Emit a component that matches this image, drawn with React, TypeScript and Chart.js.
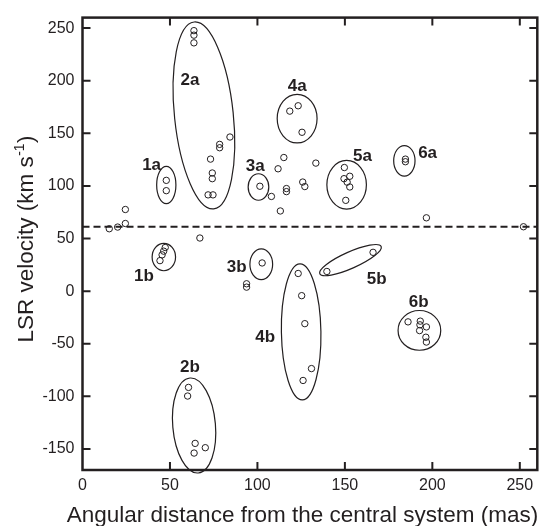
import React, { useEffect, useRef } from "react";
import { Chart, registerables } from "chart.js";

Chart.register(...registerables);

// ---- tick labels ----
const xTicks = [0, 50, 100, 150, 200, 250];
const yTicks = [-150, -100, -50, 0, 50, 100, 150, 200, 250];
const xRange = [0, 260];
const yRange = [-170, 260];

// ---- systemic velocity (dashed line) ----
const systemicVelocity = 61.3;

// ---- maser spots: angular distance (mas) and LSR velocity (km/s) ----
const distance = [
  15.3, 20.1, 24.5, 24.5,
  47.9, 47.9,
  47.3, 46.4, 45.5, 44.3,
  67.1,
  63.7, 63.7, 63.7, 84.3, 78.4, 78.4, 73.2, 74.2, 74.2, 71.8, 74.6,
  60.6, 60.1, 64.4, 70.2, 63.8,
  101.4,
  108.0, 113.1, 111.8, 115.1, 116.6, 116.6, 125.9, 127.1, 133.4,
  102.7, 93.8, 93.8,
  118.5, 123.3, 125.5,
  123.3, 125.3, 127.1, 130.9, 126.1,
  149.7, 152.8, 149.5, 151.3, 152.8, 150.5,
  139.7, 166.1,
  184.6, 184.6,
  196.6, 252.1,
  186.1, 193.1, 192.9, 192.7, 196.6, 196.3, 196.6,
];
const velocity = [
  59.3, 60.9, 64.3, 77.6,
  105.3, 95.5,
  41.5, 38.0, 34.5, 29.0,
  50.5,
  247.6, 243.3, 236.0, 146.5, 139.5, 136.3, 125.5, 112.3, 106.9, 91.5, 91.5,
  -91.5, -99.7, -144.7, -148.8, -153.9,
  99.7,
  90.0, 76.2, 116.3, 127.0, 97.5, 94.6, 103.7, 99.4, 121.7,
  26.8, 7.0, 3.8,
  171.1, 176.2, 151.0,
  16.8, -4.3, -30.9, -73.6, -84.9,
  117.5, 109.2, 106.9, 103.6, 99.0, 86.3,
  18.7, 36.9,
  125.5, 123.0,
  69.7, 61.2,
  -29.2, -28.5, -32.0, -37.5, -34.0, -43.8, -48.4,
];

// ---- cluster ellipses (data units; tilt in degrees on screen) ----
const ellipseNames = ["1a", "1b", "2a", "2b", "3a", "3b", "4a", "4b", "5a", "5b", "6a", "6b"];
const ellipseCx = [47.9, 46.5, 69.4, 63.8, 100.6, 102.2, 122.7, 125.0, 151.0, 153.2, 184.0, 192.6];
const ellipseCy = [100.9, 32.4, 167.0, -127.7, 99.0, 25.5, 164.0, -38.7, 101.1, 29.5, 123.9, -37.3];
const ellipseRx = [5.5, 6.7, 16.8, 12.2, 5.9, 6.5, 11.4, 11.3, 11.3, 19.2, 6.1, 12.2];
const ellipseRy = [17.7, 13.0, 89.3, 45.3, 12.6, 14.6, 23.1, 64.7, 23.1, 7.8, 14.5, 18.9];
const ellipseTilt = [0, 0, -6, -5, 0, 0, 0, -1, 0, -24, 0, 0];

// ---- cluster label anchors (data units) ----
const labelX = [39.5, 35.1, 61.4, 61.4, 98.8, 88.2, 122.7, 104.4, 160.1, 168.2, 197.3, 192.2];
const labelY = [121.0, 15.2, 201.0, -71.7, 119.5, 23.4, 195.7, -42.7, 129.0, 11.9, 132.0, -10.1];

const xTitle = "Angular distance from the central system (mas)";
const yTitleMain = "LSR velocity (km s";
const yTitleSup = "-1";
const yTitleEnd = ")";

const INK = "#231f20";
const FAMILY = '"Liberation Sans", Arial, Helvetica, sans-serif';

const overlayPlugin = {
  id: "overlay",
  afterDatasetsDraw(chart: any) {
    const { ctx, chartArea, scales } = chart;
    const xs = scales.x;
    const ys = scales.y;
    const { left, right, top, bottom } = chartArea;
    ctx.save();

    // dashed systemic line
    ctx.strokeStyle = INK;
    ctx.lineWidth = 2;
    ctx.setLineDash([7, 4]);
    const yd = ys.getPixelForValue(systemicVelocity);
    ctx.beginPath();
    ctx.moveTo(left, yd);
    ctx.lineTo(right, yd);
    ctx.stroke();
    ctx.setLineDash([]);

    // ellipses
    const pxPerX = Math.abs(xs.getPixelForValue(1) - xs.getPixelForValue(0));
    const pxPerY = Math.abs(ys.getPixelForValue(1) - ys.getPixelForValue(0));
    ctx.lineWidth = 1.2;
    for (let i = 0; i < ellipseNames.length; i++) {
      const cx = xs.getPixelForValue(ellipseCx[i]);
      const cy = ys.getPixelForValue(ellipseCy[i]);
      ctx.beginPath();
      ctx.ellipse(cx, cy, ellipseRx[i] * pxPerX, ellipseRy[i] * pxPerY, (ellipseTilt[i] * Math.PI) / 180, 0, Math.PI * 2);
      ctx.stroke();
    }

    // cluster labels
    ctx.fillStyle = INK;
    ctx.font = `bold 17px ${FAMILY}`;
    ctx.textAlign = "center";
    ctx.textBaseline = "middle";
    for (let i = 0; i < ellipseNames.length; i++) {
      ctx.fillText(ellipseNames[i], xs.getPixelForValue(labelX[i]), ys.getPixelForValue(labelY[i]) + 1);
    }

    // frame
    ctx.lineWidth = 2.5;
    ctx.strokeRect(left, top, right - left, bottom - top);

    // inward ticks on all sides
    const tl = 8;
    ctx.lineWidth = 2;
    ctx.beginPath();
    for (const v of xTicks) {
      const px = xs.getPixelForValue(v);
      if (px <= left + 2 || px >= right - 2) continue;
      ctx.moveTo(px, bottom);
      ctx.lineTo(px, bottom - tl);
      ctx.moveTo(px, top);
      ctx.lineTo(px, top + tl);
    }
    for (const v of yTicks) {
      const py = ys.getPixelForValue(v);
      if (py <= top + 2 || py >= bottom - 2) continue;
      ctx.moveTo(left, py);
      ctx.lineTo(left + tl, py);
      ctx.moveTo(right, py);
      ctx.lineTo(right - tl, py);
    }
    ctx.stroke();

    // x title
    ctx.font = `22.5px ${FAMILY}`;
    ctx.textAlign = "center";
    ctx.textBaseline = "alphabetic";
    ctx.fillText(xTitle, 302.5, 521.5);

    // y title with superscript
    ctx.save();
    ctx.translate(33, 239.5);
    ctx.rotate(-Math.PI / 2);
    ctx.textAlign = "left";
    ctx.font = `22.5px ${FAMILY}`;
    const w1 = ctx.measureText(yTitleMain).width;
    const w3 = ctx.measureText(yTitleEnd).width;
    ctx.font = `14px ${FAMILY}`;
    const w2 = ctx.measureText(yTitleSup).width;
    let x = -(w1 + w2 + w3) / 2;
    ctx.font = `22.5px ${FAMILY}`;
    ctx.fillText(yTitleMain, x, 0);
    x += w1;
    ctx.font = `14px ${FAMILY}`;
    ctx.fillText(yTitleSup, x + 0.5, -9);
    x += w2 + 1;
    ctx.font = `22.5px ${FAMILY}`;
    ctx.fillText(yTitleEnd, x, 0);
    ctx.restore();

    ctx.restore();
  },
};

export default function App() {
  const ref = useRef<HTMLCanvasElement | null>(null);
  useEffect(() => {
    if (!ref.current) return;
    const points = distance.map((d, i) => ({ x: d, y: velocity[i] }));
    const chart = new Chart(ref.current, {
      type: "scatter",
      data: {
        datasets: [
          {
            data: points,
            pointRadius: 3.2,
            pointHoverRadius: 3.2,
            pointStyle: "circle",
            borderColor: INK,
            borderWidth: 1,
            backgroundColor: "rgba(0,0,0,0)",
            showLine: false,
          },
        ],
      },
      options: {
        animation: false,
        responsive: false,
        events: [],
        layout: { padding: { top: 15, right: 5.7, left: 0, bottom: 0 } },
        plugins: { legend: { display: false }, tooltip: { enabled: false } },
        scales: {
          x: {
            type: "linear",
            min: xRange[0],
            max: xRange[1],
            grid: { display: false, drawTicks: false },
            border: { display: false },
            afterBuildTicks: (s: any) => {
              s.ticks = xTicks.map((v) => ({ value: v }));
            },
            afterFit: (s: any) => {
              s.height = 56;
            },
            ticks: {
              padding: 6,
              color: INK,
              font: { family: FAMILY, size: 16 },
              maxRotation: 0,
              autoSkip: false,
            },
          },
          y: {
            type: "linear",
            min: yRange[0],
            max: yRange[1],
            grid: { display: false, drawTicks: false },
            border: { display: false },
            afterBuildTicks: (s: any) => {
              s.ticks = yTicks.map((v) => ({ value: v }));
            },
            afterFit: (s: any) => {
              s.width = 82.5;
            },
            ticks: {
              padding: 8,
              color: INK,
              font: { family: FAMILY, size: 16 },
              autoSkip: false,
            },
          },
        },
      },
      plugins: [overlayPlugin],
    } as any);
    return () => chart.destroy();
  }, []);
  return (
    <div style={{ position: "fixed", left: 0, top: 0, width: 543, height: 526, background: "#fff" }}>
      <canvas ref={ref} width={543} height={526} style={{ display: "block", width: 543, height: 526 }} />
    </div>
  );
}
